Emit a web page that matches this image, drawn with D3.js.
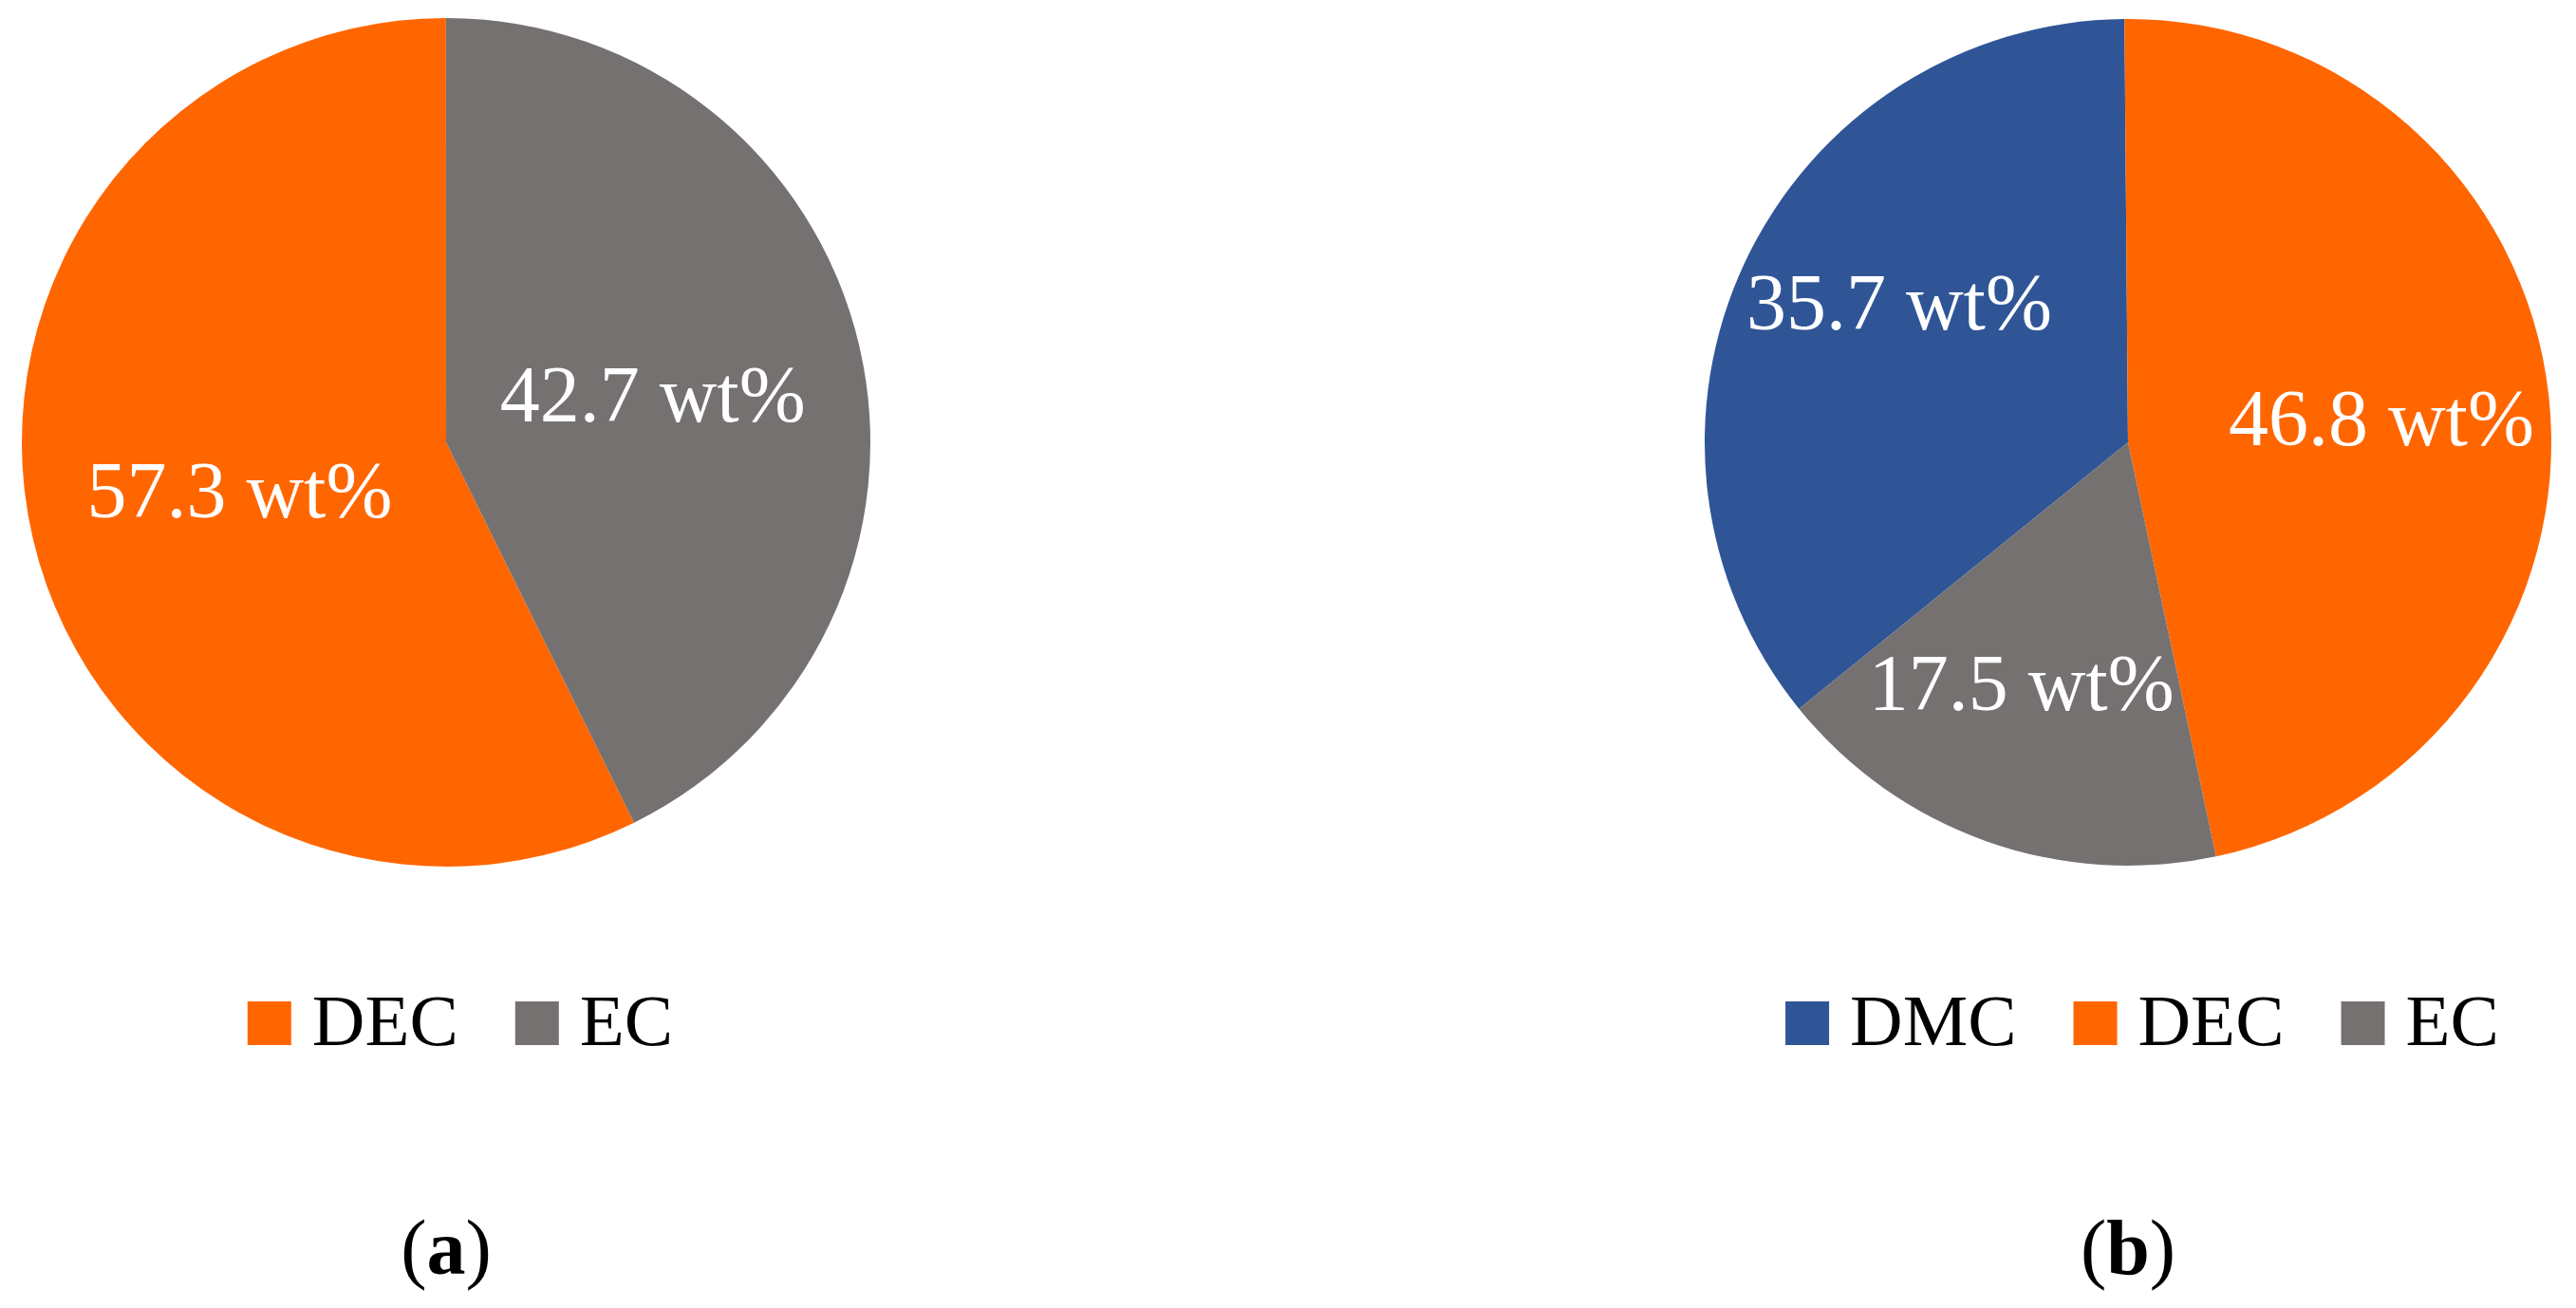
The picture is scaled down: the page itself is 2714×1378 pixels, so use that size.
<!DOCTYPE html>
<html>
<head>
<meta charset="utf-8">
<script src="https://cdn.jsdelivr.net/npm/d3@7/dist/d3.min.js"></script>
<style>
  html, body { margin: 0; padding: 0; background: #ffffff; }
  svg { display: block; }
</style>
</head>
<body>
<script>
// ---------- data ----------
const categoriesA = ["DEC", "EC"];
const valuesA = [57.3, 42.7];
const categoriesB = ["DMC", "DEC", "EC"];
const valuesB = [35.7, 46.8, 17.5];
const panelLabels = ["a", "b"];
const unitLabel = " wt%";

// ---------- style / layout ----------
const W = 2714, H = 1378;
const colors = { DMC: "#2F5597", DEC: "#FF6600", EC: "#767171" };
const fontFamily = "'Palatino Linotype', 'Book Antiqua', Palatino, 'Liberation Serif', 'DejaVu Serif', serif";

const panels = [
  { cats: categoriesA, vals: valuesA, cx: 470, cy: 466, r: 447, firstAngle: 153.7, labelK: 0.5,
    nudge: {}, legendShift: 15, tag: panelLabels[0] },
  { cats: categoriesB, vals: valuesB, cx: 2242, cy: 466, r: 446, firstAngle: 231.0, labelK: 0.62,
    nudge: { DMC: [9, -30], EC: [-20, -7], DEC: [-8, 4] }, legendShift: 15, tag: panelLabels[1] }
];

const svg = d3.select("body").append("svg")
  .attr("width", W).attr("height", H)
  .attr("viewBox", `0 0 ${W} ${H}`);
svg.append("rect").attr("width", W).attr("height", H).attr("fill", "#ffffff");

panels.forEach(p => {
  const data = p.cats.map((c, i) => ({ cat: c, value: p.vals[i] }));
  const a0 = p.firstAngle * Math.PI / 180;
  const pie = d3.pie().sort(null).value(d => d.value)
    .startAngle(a0).endAngle(a0 + 2 * Math.PI);
  const arcs = pie(data);
  const arc = d3.arc().innerRadius(0).outerRadius(p.r);
  const labelArc = d3.arc().innerRadius(0).outerRadius(p.r * p.labelK * 2);

  const g = svg.append("g").attr("transform", `translate(${p.cx},${p.cy})`);
  g.selectAll("path.slice").data(arcs).enter().append("path")
    .attr("class", "slice")
    .attr("d", arc)
    .attr("fill", d => colors[d.data.cat]);

  g.selectAll("text.lbl").data(arcs).enter().append("text")
    .attr("class", "lbl")
    .attr("transform", d => {
      const c = labelArc.centroid(d);
      const n = p.nudge[d.data.cat] || [0, 0];
      return `translate(${c[0] + n[0]},${c[1] + n[1]})`;
    })
    .attr("text-anchor", "middle")
    .attr("dy", "0.34em")
    .attr("font-family", fontFamily)
    .attr("font-size", 84)
    .attr("fill", "#ffffff")
    .text(d => d3.format(".1f")(d.data.value) + unitLabel);

  // legend
  const sq = 46, gapText = 22, gapItem = 60, legendBaseline = 1101;
  const lg = svg.append("g");
  const items = lg.selectAll("g.item").data(p.cats).enter().append("g").attr("class", "item");
  items.append("rect")
    .attr("y", legendBaseline - sq).attr("width", sq).attr("height", sq)
    .attr("fill", d => colors[d]);
  items.append("text")
    .attr("y", legendBaseline)
    .attr("font-family", fontFamily)
    .attr("font-size", 77)
    .attr("fill", "#000000")
    .text(d => d);
  let x = 0;
  items.each(function () {
    const it = d3.select(this);
    it.select("rect").attr("x", x);
    it.select("text").attr("x", x + sq + gapText);
    const tw = it.select("text").node().getComputedTextLength();
    x += sq + gapText + tw + gapItem;
  });
  const totalW = x - gapItem;
  lg.attr("transform", `translate(${p.cx + p.legendShift - totalW / 2},0)`);

  // panel caption
  const cap = svg.append("text")
    .attr("x", p.cx).attr("y", 1342)
    .attr("text-anchor", "middle")
    .attr("font-family", fontFamily)
    .attr("font-size", 82)
    .attr("fill", "#000000");
  cap.append("tspan").text("(");
  cap.append("tspan").attr("font-weight", "bold").text(p.tag);
  cap.append("tspan").text(")");
});
</script>
</body>
</html>
